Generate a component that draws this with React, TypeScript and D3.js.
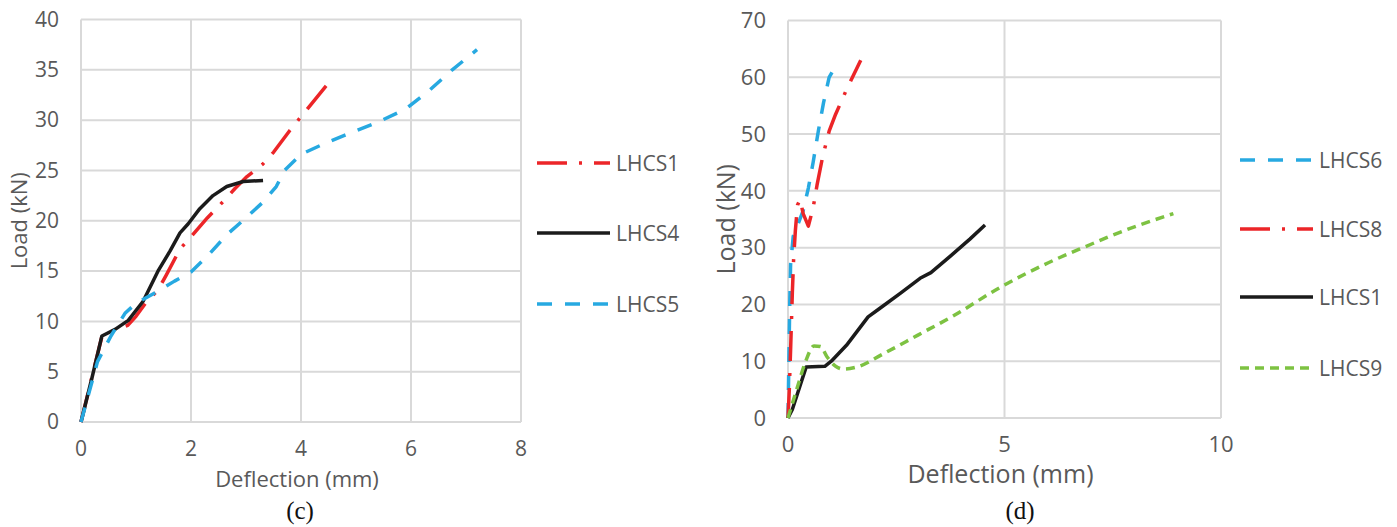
import { useEffect, useRef } from 'react'
import * as d3 from 'd3'

// panel (c)
const cTicksX = [0, 2, 4, 6, 8]
const cTicksY = [0, 5, 10, 15, 20, 25, 30, 35, 40]
const cLHCS1 = [
  [0, 0], [0.2, 4.5], [0.38, 8.5], [0.6, 9.1], [0.85, 9.6], [1.0, 10.5], [1.2, 12], [1.4, 13.1],
  [1.55, 14.6], [1.8, 17.2], [2.0, 18.4], [2.3, 20.3], [2.6, 22], [2.8, 23.2], [3.0, 24.3],
  [3.3, 25.6], [3.5, 26.8], [3.8, 29], [4.1, 31], [4.56, 34.1],
]
const cLHCS4 = [
  [0, 0], [0.2, 4.4], [0.38, 8.55], [0.62, 9.2], [0.86, 10.1], [1.13, 12], [1.41, 15.1],
  [1.62, 17], [1.8, 18.8], [1.95, 19.7], [2.16, 21.2], [2.4, 22.5], [2.65, 23.4], [2.95, 23.9], [3.31, 24],
]
const cLHCS5 = [
  [0, 0], [0.15, 3], [0.3, 6], [0.55, 8.6], [0.8, 10.8], [1.0, 11.8], [1.4, 13], [1.7, 14],
  [2.0, 14.9], [2.3, 16.5], [2.65, 18.6], [3.0, 20.3], [3.3, 21.8], [3.55, 23.4], [3.7, 25],
  [4.0, 26.6], [4.4, 27.6], [4.8, 28.5], [5.4, 29.8], [5.9, 31.1], [6.3, 32.8], [6.75, 35], [7.2, 37],
]

// panel (d)
const dTicksX = [0, 5, 10]
const dTicksY = [0, 10, 20, 30, 40, 50, 60, 70]
const dLHCS6 = [
  [0, 0], [0.02, 10], [0.04, 20], [0.06, 27], [0.12, 32], [0.25, 34.5], [0.35, 36.5], [0.47, 40.5],
  [0.58, 45], [0.7, 50.5], [0.82, 55.5], [0.95, 60], [1.1, 62],
]
const dLHCS8 = [
  [0, 0], [0.03, 5], [0.06, 12], [0.1, 22], [0.13, 28], [0.17, 33], [0.22, 37.5], [0.28, 38.5],
  [0.35, 36], [0.47, 33.8], [0.58, 37], [0.67, 41], [0.8, 46], [0.95, 50.5], [1.1, 53.5],
  [1.35, 57.8], [1.5, 60.2], [1.68, 63],
]
const dLHCS1 = [
  [0, 0], [0.1, 1.5], [0.42, 9], [0.85, 9.1], [1.0, 10], [1.35, 12.8], [1.6, 15.3], [1.85, 17.8],
  [2.1, 19.2], [2.6, 22], [3.05, 24.6], [3.3, 25.6], [3.75, 28.5], [4.2, 31.5], [4.55, 34],
]
const dLHCS9 = [
  [0, 0], [0.2, 5], [0.4, 9.8], [0.6, 12.7], [0.75, 12.6], [0.9, 10.8], [1.1, 9.1], [1.3, 8.6],
  [1.6, 9.0], [2.2, 11.3], [3.0, 14.6], [3.8, 17.9], [4.9, 23], [6.0, 27.3], [7.0, 30.6],
  [7.4, 31.9], [8.9, 36],
]

const RED = '#ec2528'
const BLACK = '#1b1b1b'
const BLUE = '#27a9e1'
const GREEN = '#7dc242'
const DASHDOT = '30,12,3,12'
const DASH = '15,13'
const SHORTDASH = '9,6'
const TEXT = '#595959'
const GRID = '#d9d9d9'
const FONT = '"Open Sans", sans-serif'

type Series = { name: string; data: number[][]; color: string; dash: string | null; smooth?: boolean }

type Panel = {
  left: number; right: number; top: number; bottom: number
  xMax: number; yMax: number; ticksX: number[]; ticksY: number[]
  series: Series[]
  legendX: number; legendY: number[]
  tickSize: number; titleSize: number
  caption: string; captionX: number
}

const panels: Panel[] = [
  {
    left: 81, right: 521, top: 19.5, bottom: 422, xMax: 8, yMax: 40,
    ticksX: cTicksX, ticksY: cTicksY,
    series: [
      { name: 'LHCS1', data: cLHCS1, color: RED, dash: DASHDOT },
      { name: 'LHCS4', data: cLHCS4, color: BLACK, dash: null },
      { name: 'LHCS5', data: cLHCS5, color: BLUE, dash: DASH },
    ],
    legendX: 537, legendY: [163, 233, 304],
    tickSize: 21, titleSize: 22, caption: '(c)', captionX: 300,
  },
  {
    left: 788, right: 1221, top: 20.5, bottom: 418, xMax: 10, yMax: 70,
    ticksX: dTicksX, ticksY: dTicksY,
    series: [
      { name: 'LHCS6', data: dLHCS6, color: BLUE, dash: DASH },
      { name: 'LHCS8', data: dLHCS8, color: RED, dash: DASHDOT },
      { name: 'LHCS1', data: dLHCS1, color: BLACK, dash: null },
      { name: 'LHCS9', data: dLHCS9, color: GREEN, dash: SHORTDASH, smooth: true },
    ],
    legendX: 1240, legendY: [160, 229, 297, 368],
    tickSize: 22, titleSize: 25, caption: '(d)', captionX: 1020,
  },
]

export default function App() {
  const svgRef = useRef<SVGSVGElement>(null)

  useEffect(() => {
    const svg = d3.select(svgRef.current)
    svg.selectAll('*').remove()

    panels.forEach((p) => {
      const g = svg.append('g')
      const x = d3.scaleLinear().domain([0, p.xMax]).range([p.left, p.right])
      const y = d3.scaleLinear().domain([0, p.yMax]).range([p.bottom, p.top])

      // grid
      g.selectAll('.hg')
        .data(p.ticksY)
        .join('line')
        .attr('x1', p.left).attr('x2', p.right)
        .attr('y1', (d) => y(d)).attr('y2', (d) => y(d))
        .attr('stroke', GRID).attr('stroke-width', 2)
      g.selectAll('.vg')
        .data(p.ticksX)
        .join('line')
        .attr('x1', (d) => x(d)).attr('x2', (d) => x(d))
        .attr('y1', p.top).attr('y2', p.bottom)
        .attr('stroke', GRID).attr('stroke-width', 2)

      // tick labels
      g.selectAll('.yt')
        .data(p.ticksY)
        .join('text')
        .attr('x', p.left - 22)
        .attr('y', (d) => y(d))
        .attr('dy', '0.35em')
        .attr('text-anchor', 'end')
        .attr('font-family', FONT).attr('font-size', p.tickSize).attr('fill', TEXT)
        .text((d) => d)
      g.selectAll('.xt')
        .data(p.ticksX)
        .join('text')
        .attr('x', (d) => x(d))
        .attr('y', p.bottom + 34)
        .attr('text-anchor', 'middle')
        .attr('font-family', FONT).attr('font-size', p.tickSize).attr('fill', TEXT)
        .text((d) => d)

      // axis titles
      g.append('text')
        .attr('x', (p.left + p.right) / 2 - 4)
        .attr('y', p.bottom + 65)
        .attr('text-anchor', 'middle')
        .attr('font-family', FONT).attr('font-size', p.titleSize).attr('fill', TEXT)
        .text('Deflection (mm)')
      g.append('text')
        .attr('transform', `translate(${p.left - 62},${(p.top + p.bottom) / 2}) rotate(-90)`)
        .attr('text-anchor', 'middle')
        .attr('dy', '0.35em')
        .attr('font-family', FONT).attr('font-size', p.titleSize).attr('fill', TEXT)
        .text('Load (kN)')

      // caption
      g.append('text')
        .attr('x', p.captionX)
        .attr('y', 519)
        .attr('text-anchor', 'middle')
        .attr('font-family', '"Liberation Serif", serif').attr('font-size', 25).attr('fill', '#111')
        .text(p.caption)

      // series + legend
      p.series.forEach((s, i) => {
        const line = d3.line<number[]>()
          .x((d) => x(d[0]))
          .y((d) => y(d[1]))
          .curve(s.smooth ? d3.curveMonotoneX : d3.curveLinear)
        g.append('path')
          .attr('d', line(s.data))
          .attr('fill', 'none')
          .attr('stroke', s.color)
          .attr('stroke-width', 3.5)
          .attr('stroke-linejoin', 'round')
          .attr('stroke-dasharray', s.dash)

        const ly = p.legendY[i]
        g.append('line')
          .attr('x1', p.legendX).attr('x2', p.legendX + 73)
          .attr('y1', ly).attr('y2', ly)
          .attr('stroke', s.color)
          .attr('stroke-width', 3.5)
          .attr('stroke-dasharray', s.dash)
        g.append('text')
          .attr('x', p.legendX + 79)
          .attr('y', ly)
          .attr('dy', '0.36em')
          .attr('font-family', FONT).attr('font-size', 21).attr('fill', TEXT)
          .text(s.name)
      })
    })
  }, [])

  return (
    <svg
      ref={svgRef}
      width={1397}
      height={527}
      style={{ position: 'absolute', left: 0, top: 0, background: '#fff' }}
    />
  )
}
